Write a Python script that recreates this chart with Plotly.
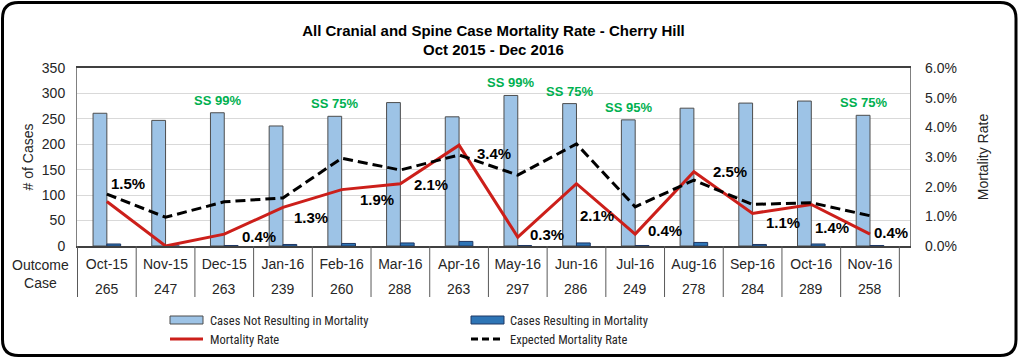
import plotly.graph_objects as go

# ---------------- data ----------------
months = ["Oct-15", "Nov-15", "Dec-15", "Jan-16", "Feb-16", "Mar-16", "Apr-16",
          "May-16", "Jun-16", "Jul-16", "Aug-16", "Sep-16", "Oct-16", "Nov-16"]
outcome_cases = [265, 247, 263, 239, 260, 288, 263, 297, 286, 249, 278, 284, 289, 258]
cases_not_mortality = [261, 247, 262, 236, 255, 282, 254, 296, 280, 248, 271, 281, 285, 257]
cases_mortality = [4, 0, 1, 3, 5, 6, 9, 1, 6, 1, 7, 3, 4, 1]
mortality_rate = [1.5, 0.0, 0.4, 1.3, 1.9, 2.1, 3.4, 0.3, 2.1, 0.4, 2.5, 1.1, 1.4, 0.4]
expected_rate = [1.75, 0.97, 1.49, 1.62, 2.96, 2.56, 3.07, 2.39, 3.44, 1.32, 2.22, 1.40, 1.46, 1.02]
ss_months = ["Dec-15", "Feb-16", "May-16", "Jun-16", "Jul-16", "Nov-16"]
ss_labels = ["SS 99%", "SS 75%", "SS 99%", "SS 75%", "SS 95%", "SS 75%"]

# label offsets (px right, px down) for the mortality-rate labels
label_offsets = [(21, -18), None, (35, 2), (28, 10), (35, 10), (31, 1), (35, 8),
                 (29, -3), (21, 32), (30, -4), (36, 0), (30, 9), (21, 23), (21, -2)]

FONT = "Liberation Sans, Arial, sans-serif"
LEGEND_FONT = "Liberation Sans Narrow, Roboto Condensed, Roboto, Liberation Sans, sans-serif"

W, H = 1020, 359
PL, PR, PT, PB = 77, 910, 68, 246  # plot area in px


def xp(px):
    return (px - PL) / (PR - PL)


def yp(py):
    return (PB - py) / (PB - PT)


fig = go.Figure()

fig.add_trace(go.Bar(
    x=months, y=cases_not_mortality, name="Cases Not Resulting in Mortality",
    marker=dict(color="#9DC3E6", line=dict(color="#4d4d4d", width=1)),
    offsetgroup="a", showlegend=False))
fig.add_trace(go.Bar(
    x=months, y=cases_mortality, name="Cases Resulting in Mortality",
    marker=dict(color="#2E75B6", line=dict(color="#1f3864", width=1)),
    offsetgroup="b", showlegend=False))
fig.add_trace(go.Scatter(
    x=months, y=mortality_rate, name="Mortality Rate", yaxis="y2", mode="lines",
    line=dict(color="#CC1F1A", width=3), showlegend=False))
fig.add_trace(go.Scatter(
    x=months, y=expected_rate, name="Expected Mortality Rate", yaxis="y2", mode="lines",
    line=dict(color="black", width=3, dash="10px,5px"), showlegend=False))

annotations = []
# SS labels above bars
for m, lab in zip(ss_months, ss_labels):
    i = months.index(m)
    annotations.append(dict(
        x=m, y=cases_not_mortality[i], xref="x", yref="y", text=lab, showarrow=False,
        yanchor="bottom", yshift=3, xshift=-7,
        font=dict(family=FONT, size=13, color="#00B050", weight="bold")))

# mortality rate labels
for i, (m, r) in enumerate(zip(months, mortality_rate)):
    off = label_offsets[i]
    if off is None:
        continue
    annotations.append(dict(
        x=m, y=r, xref="x", yref="y2", text=f"{r:.1f}%", showarrow=False,
        xshift=off[0], yshift=-off[1],
        font=dict(family=FONT, size=15, color="black", weight="bold")))

# table row: outcome case counts
for m, c in zip(months, outcome_cases):
    annotations.append(dict(
        x=m, y=yp(288.5), xref="x", yref="paper", text=str(c), showarrow=False,
        yanchor="middle", font=dict(family=FONT, size=14, color="#262626")))

annotations.append(dict(
    x=xp(40), y=yp(274), xref="paper", yref="paper", text="Outcome<br>Case",
    showarrow=False, xanchor="center", yanchor="middle",
    font=dict(family=FONT, size=14, color="#262626")))

# manual legend
leg_rows = [(208, 320, "Cases Not Resulting in Mortality"),
            (508, 320, "Cases Resulting in Mortality"),
            (208, 339, "Mortality Rate"),
            (508, 339, "Expected Mortality Rate")]
for lx, ly, txt in leg_rows:
    annotations.append(dict(
        x=xp(lx), y=yp(ly), xref="paper", yref="paper", text=txt, showarrow=False,
        xanchor="left", yanchor="middle",
        font=dict(family=LEGEND_FONT, size=12.5, color="#262626")))

shapes = []
# table column lines
for k in range(len(months) + 1):
    shapes.append(dict(type="line", xref="x", yref="paper", x0=k - 0.5, x1=k - 0.5,
                       y0=0, y1=yp(297), line=dict(color="#595959", width=1)))

# legend symbols
shapes.append(dict(type="rect", xref="paper", yref="paper", x0=xp(170), x1=xp(203),
                   y0=yp(324), y1=yp(316), fillcolor="#9DC3E6",
                   line=dict(color="#4d4d4d", width=1)))
shapes.append(dict(type="rect", xref="paper", yref="paper", x0=xp(471), x1=xp(504),
                   y0=yp(324), y1=yp(316), fillcolor="#2E75B6",
                   line=dict(color="#1f3864", width=1)))
shapes.append(dict(type="line", xref="paper", yref="paper", x0=xp(170), x1=xp(203),
                   y0=yp(339), y1=yp(339), line=dict(color="#CC1F1A", width=3)))
shapes.append(dict(type="line", xref="paper", yref="paper", x0=xp(471), x1=xp(504),
                   y0=yp(339), y1=yp(339), line=dict(color="black", width=3, dash="7px,4px")))

# outer rounded border
L, T, R, B, rad = 2.5, 2.5, 1016, 355.5, 16
path = (f"M {xp(L + rad)},{yp(T)} L {xp(R - rad)},{yp(T)} Q {xp(R)},{yp(T)} {xp(R)},{yp(T + rad)} "
        f"L {xp(R)},{yp(B - rad)} Q {xp(R)},{yp(B)} {xp(R - rad)},{yp(B)} "
        f"L {xp(L + rad)},{yp(B)} Q {xp(L)},{yp(B)} {xp(L)},{yp(B - rad)} "
        f"L {xp(L)},{yp(T + rad)} Q {xp(L)},{yp(T)} {xp(L + rad)},{yp(T)} Z")
shapes.append(dict(type="path", xref="paper", yref="paper", path=path,
                   line=dict(color="black", width=3), layer="above"))

fig.update_layout(
    width=W, height=H,
    margin=dict(l=PL, r=W - PR, t=PT, b=H - PB),
    paper_bgcolor="white", plot_bgcolor="white",
    barmode="group", bargap=0.53, bargroupgap=0,
    font=dict(family=FONT, size=14, color="#262626"),
    title=dict(text="All Cranial and Spine Case Mortality Rate - Cherry Hill<br>Oct 2015 - Dec 2016",
               x=0.5, xref="paper", xanchor="center", y=1 - 35.5 / H, yanchor="middle",
               font=dict(family=FONT, size=15, color="black", weight="bold")),
    xaxis=dict(type="category", categoryorder="array", categoryarray=months,
               showline=True, linecolor="#404040", linewidth=1.5, mirror=True,
               showgrid=False, ticks="", tickfont=dict(size=14, color="#262626"),
               ticklabelstandoff=4),
    yaxis=dict(range=[0, 350], dtick=50, showgrid=True, gridcolor="#D9D9D9",
               showline=True, linecolor="#808080", mirror=True, ticks="",
               zeroline=False, ticklabelstandoff=8,
               tickfont=dict(size=14, color="#262626"),
               title=dict(text="# of Cases", font=dict(size=14, color="#262626"), standoff=4)),
    yaxis2=dict(range=[0, 6], dtick=1, overlaying="y", side="right",
                tickformat=".1f", ticksuffix="%", showgrid=False, zeroline=False,
                ticks="", tickfont=dict(size=14, color="#262626"),
                ticklabelstandoff=14,
                title=dict(text="Mortality Rate", font=dict(size=14, color="#262626"), standoff=22)),
    annotations=annotations, shapes=shapes,
)

fig.write_html("out.html", config={"displayModeBar": False},
               post_script="document.body.style.margin='0';document.body.style.overflow='hidden';")
